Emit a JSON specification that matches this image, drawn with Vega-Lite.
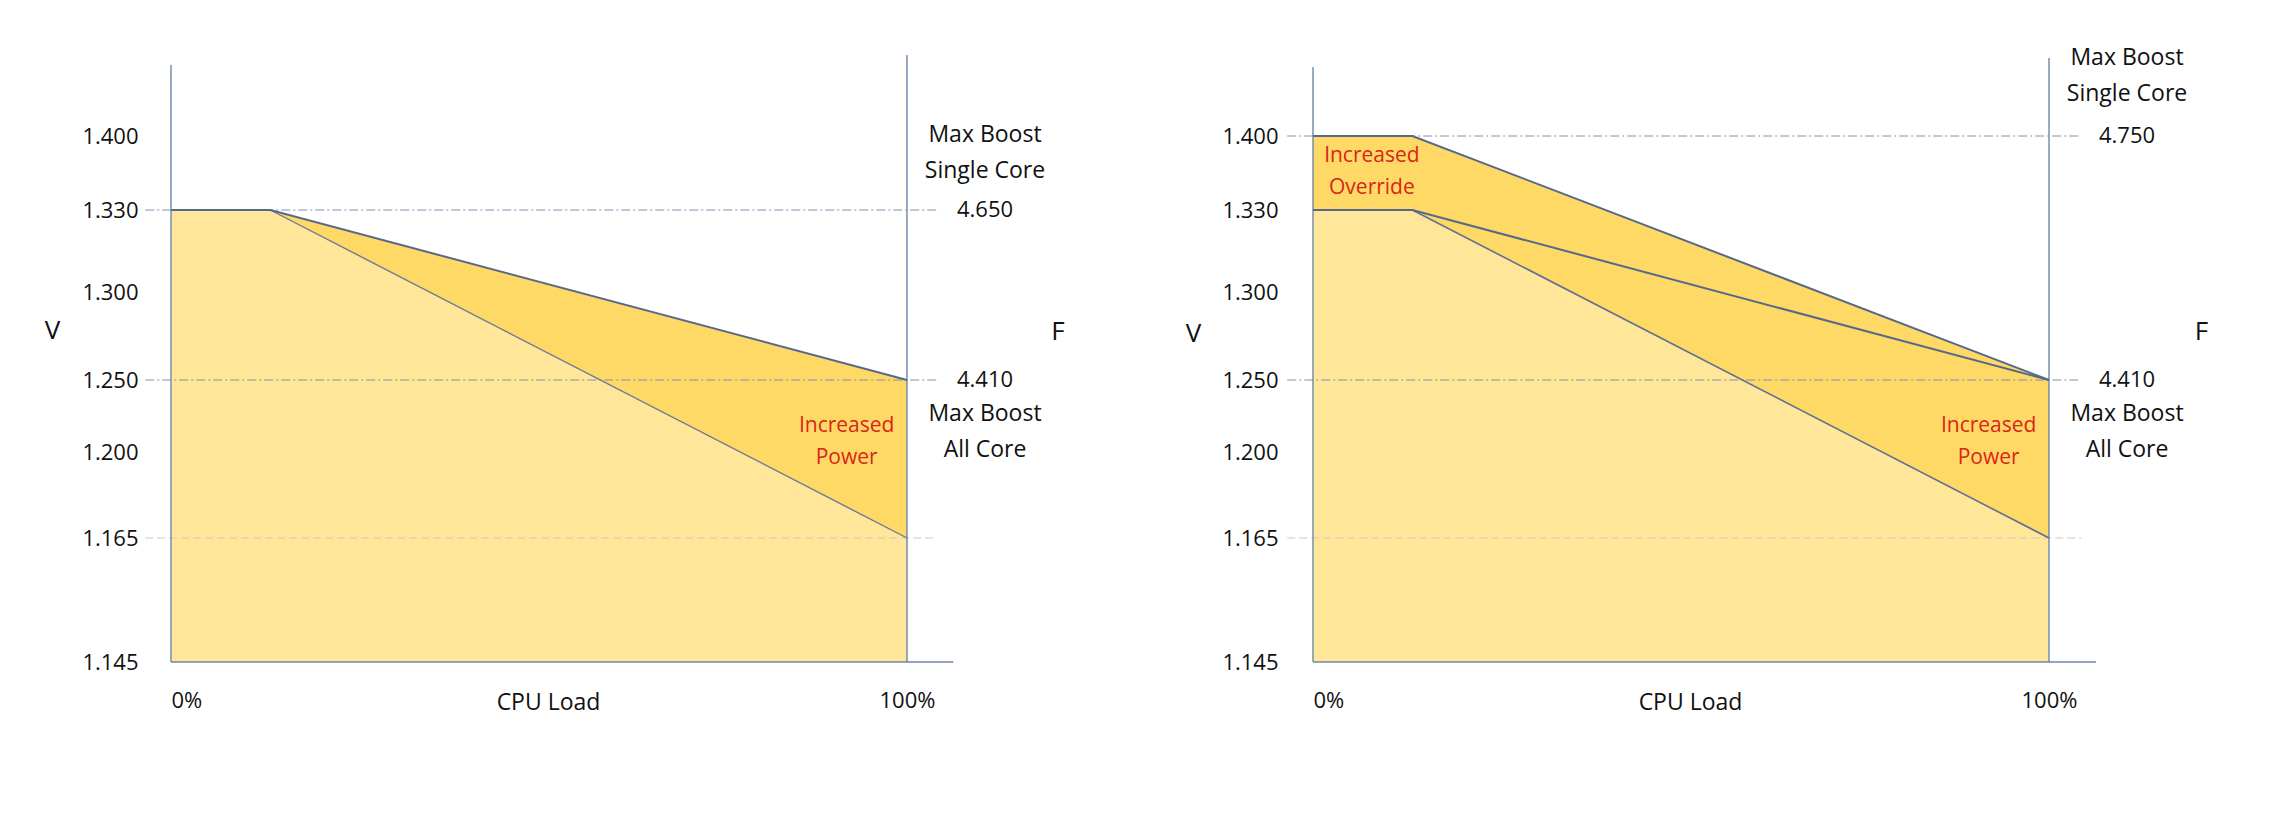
{
  "$schema": "https://vega.github.io/schema/vega-lite/v6.json",
  "background": "white",
  "padding": {"left": 44, "top": 36, "right": 10, "bottom": 100},
  "bounds": "flush",
  "spacing": 406,
  "config": {
    "view": {"stroke": null},
    "font": "Open Sans",
    "axis": {"grid": false, "domain": false, "ticks": false, "labelColor": "#111111", "titleColor": "#111111", "titleFontWeight": "normal"}
  },
  "datasets": {
    "regionsL": [
      {"region": "Base", "load": 0, "v": 1.33, "v2": 1.145},
      {"region": "Base", "load": 13.5, "v": 1.33, "v2": 1.145},
      {"region": "Base", "load": 100, "v": 1.165, "v2": 1.145},
      {"region": "Increased", "load": 13.5, "v": 1.33, "v2": 1.33},
      {"region": "Increased", "load": 100, "v": 1.25, "v2": 1.165}
    ],
    "regionsR": [
      {"region": "Base", "load": 0, "v": 1.33, "v2": 1.145},
      {"region": "Base", "load": 13.5, "v": 1.33, "v2": 1.145},
      {"region": "Base", "load": 100, "v": 1.165, "v2": 1.145},
      {"region": "Increased", "load": 0, "v": 1.4, "v2": 1.33},
      {"region": "Increased", "load": 13.5, "v": 1.4, "v2": 1.33},
      {"region": "Increased", "load": 100, "v": 1.25, "v2": 1.165}
    ],
    "linesL": [
      {"line": "top", "kind": "edge", "load": 0, "v": 1.33},
      {"line": "top", "kind": "edge", "load": 13.5, "v": 1.33},
      {"line": "top", "kind": "edge", "load": 100, "v": 1.25},
      {"line": "diag", "kind": "diag", "load": 13.5, "v": 1.33},
      {"line": "diag", "kind": "diag", "load": 100, "v": 1.165}
    ],
    "linesR": [
      {"line": "upper", "kind": "edge", "load": 0, "v": 1.4},
      {"line": "upper", "kind": "edge", "load": 13.5, "v": 1.4},
      {"line": "upper", "kind": "edge", "load": 100, "v": 1.25},
      {"line": "mid", "kind": "edge", "load": 0, "v": 1.33},
      {"line": "mid", "kind": "edge", "load": 13.5, "v": 1.33},
      {"line": "mid", "kind": "edge", "load": 100, "v": 1.25},
      {"line": "diag", "kind": "diag", "load": 13.5, "v": 1.33},
      {"line": "diag", "kind": "diag", "load": 100, "v": 1.165}
    ],
    "rulesL": [
      {"kind": "frame", "load": 0, "load2": 0, "v": 1.145, "v2": 1.471},
      {"kind": "frame", "load": 100, "load2": 100, "v": 1.145, "v2": 1.481},
      {"kind": "frame", "load": 0, "load2": 106.3, "v": 1.145, "v2": 1.145},
      {"kind": "ref", "load": -3.5, "load2": 104, "v": 1.33, "v2": 1.33},
      {"kind": "ref", "load": -3.5, "load2": 104, "v": 1.25, "v2": 1.25},
      {"kind": "refgray", "load": -3.5, "load2": 104, "v": 1.165, "v2": 1.165}
    ],
    "rulesR": [
      {"kind": "frame", "load": 0, "load2": 0, "v": 1.145, "v2": 1.469},
      {"kind": "frame", "load": 100, "load2": 100, "v": 1.145, "v2": 1.478},
      {"kind": "frame", "load": 0, "load2": 106.4, "v": 1.145, "v2": 1.145},
      {"kind": "ref", "load": -3.5, "load2": 104.4, "v": 1.4, "v2": 1.4},
      {"kind": "ref", "load": -3.5, "load2": 104.4, "v": 1.25, "v2": 1.25},
      {"kind": "refgray", "load": -3.5, "load2": 104.4, "v": 1.165, "v2": 1.165}
    ],
    "textsL": [
      {"role": "freq", "load": 110.6, "v": 1.33, "text": "4.650"},
      {"role": "freq", "load": 110.6, "v": 1.25, "text": "4.410"},
      {"role": "above", "load": 110.6, "v": 1.33, "text": "Max Boost\nSingle Core"},
      {"role": "below", "load": 110.6, "v": 1.25, "text": "Max Boost\nAll Core"},
      {"role": "axis", "load": 120.5, "v": 1.277, "text": "F"},
      {"role": "note", "load": 91.8, "v": 1.207, "text": "Increased\nPower"}
    ],
    "textsR": [
      {"role": "freq", "load": 110.6, "v": 1.4, "text": "4.750"},
      {"role": "freq", "load": 110.6, "v": 1.25, "text": "4.410"},
      {"role": "above", "load": 110.6, "v": 1.4, "text": "Max Boost\nSingle Core"},
      {"role": "below", "load": 110.6, "v": 1.25, "text": "Max Boost\nAll Core"},
      {"role": "axis", "load": 120.7, "v": 1.277, "text": "F"},
      {"role": "note", "load": 91.8, "v": 1.207, "text": "Increased\nPower"},
      {"role": "note", "load": 8.0, "v": 1.366, "text": "Increased\nOverride"}
    ]
  },
  "hconcat": [
    {
      "width": 736,
      "height": 626,
      "encoding": {
        "x": {"field": "load", "type": "quantitative", "scale": {"domain": [0, 100], "nice": false, "zero": false},
          "axis": {"values": [0, 100], "labelExpr": "datum.value + '%'", "labelFontSize": 22, "labelPadding": 28,
            "labelAlign": {"condition": {"test": "datum.value == 0", "value": "left"}, "value": "center"},
            "labelFlush": false,
            "title": "CPU Load", "titleFontSize": 23, "titleX": 377, "titleY": 40, "titleBaseline": "middle", "titleAlign": "center"}},
        "y": {"field": "v", "type": "quantitative",
          "scale": {"domain": [1.145, 1.165, 1.2, 1.25, 1.3, 1.33, 1.4, 1.5], "range": [626, 502, 416, 344, 256, 174, 100, 0], "nice": false, "zero": false},
          "axis": {"values": [1.145, 1.165, 1.2, 1.25, 1.3, 1.33, 1.4], "format": ".3f", "labelFontSize": 22, "labelPadding": 33,
            "title": "V", "titleAngle": 0, "titleFontSize": 26, "titleX": -119, "titleY": 294, "titleAlign": "center", "titleBaseline": "middle"}}
      },
      "layer": [
        {"data": {"name": "regionsL"}, "mark": {"type": "area", "opacity": 1},
          "encoding": {"y2": {"field": "v2"}, "color": {"field": "region", "type": "nominal", "scale": {"domain": ["Base", "Increased"], "range": ["#FFE699", "#FFD966"]}, "legend": null}}},
        {"data": {"name": "rulesL"}, "transform": [{"filter": "datum.kind == 'ref'"}], "mark": {"type": "rule", "color": "#8092B0", "strokeWidth": 1, "strokeDash": [9, 3, 2, 3]},
          "encoding": {"x2": {"field": "load2"}, "y2": {"field": "v2"}}},
        {"data": {"name": "rulesL"}, "transform": [{"filter": "datum.kind == 'refgray'"}], "mark": {"type": "rule", "color": "#C9C9C9", "strokeWidth": 1, "strokeDash": [8, 4]},
          "encoding": {"x2": {"field": "load2"}, "y2": {"field": "v2"}}},
        {"data": {"name": "rulesL"}, "transform": [{"filter": "datum.kind == 'frame'"}], "mark": {"type": "rule", "color": "#6F86A8", "strokeWidth": 1.4},
          "encoding": {"x2": {"field": "load2"}, "y2": {"field": "v2"}}},
        {"data": {"name": "linesL"}, "transform": [{"filter": "datum.kind == 'diag'"}], "mark": {"type": "line", "color": "#6A7B98", "strokeWidth": 1.4},
          "encoding": {"detail": {"field": "line"}}},
        {"data": {"name": "linesL"}, "transform": [{"filter": "datum.kind == 'edge'"}], "mark": {"type": "line", "color": "#56698A", "strokeWidth": 2},
          "encoding": {"detail": {"field": "line"}}},
        {"data": {"name": "textsL"}, "transform": [{"filter": "datum.role == 'freq'"}], "mark": {"type": "text", "fontSize": 22, "align": "center", "baseline": "middle", "color": "#111111"},
          "encoding": {"text": {"field": "text"}}},
        {"data": {"name": "textsL"}, "transform": [{"filter": "datum.role == 'above'"}], "mark": {"type": "text", "fontSize": 23, "align": "center", "baseline": "middle", "lineBreak": "\n", "lineHeight": 36, "dy": -75, "color": "#111111"},
          "encoding": {"text": {"field": "text"}}},
        {"data": {"name": "textsL"}, "transform": [{"filter": "datum.role == 'below'"}], "mark": {"type": "text", "fontSize": 23, "align": "center", "baseline": "middle", "lineBreak": "\n", "lineHeight": 36, "dy": 34, "color": "#111111"},
          "encoding": {"text": {"field": "text"}}},
        {"data": {"name": "textsL"}, "transform": [{"filter": "datum.role == 'axis'"}], "mark": {"type": "text", "fontSize": 26, "align": "center", "baseline": "middle", "color": "#111111"},
          "encoding": {"text": {"field": "text"}}},
        {"data": {"name": "textsL"}, "transform": [{"filter": "datum.role == 'note'"}], "mark": {"type": "text", "fontSize": 21, "align": "center", "baseline": "middle", "lineBreak": "\n", "lineHeight": 32, "dy": -16, "color": "#D8261A"},
          "encoding": {"text": {"field": "text"}}}
      ]
    },
    {
      "width": 736,
      "height": 626,
      "encoding": {
        "x": {"field": "load", "type": "quantitative", "scale": {"domain": [0, 100], "nice": false, "zero": false},
          "axis": {"values": [0, 100], "labelExpr": "datum.value + '%'", "labelFontSize": 22, "labelPadding": 28,
            "labelAlign": {"condition": {"test": "datum.value == 0", "value": "left"}, "value": "center"},
            "labelFlush": false,
            "title": "CPU Load", "titleFontSize": 23, "titleX": 377, "titleY": 40, "titleBaseline": "middle", "titleAlign": "center"}},
        "y": {"field": "v", "type": "quantitative",
          "scale": {"domain": [1.145, 1.165, 1.2, 1.25, 1.3, 1.33, 1.4, 1.5], "range": [626, 502, 416, 344, 256, 174, 100, 0], "nice": false, "zero": false},
          "axis": {"values": [1.145, 1.165, 1.2, 1.25, 1.3, 1.33, 1.4], "format": ".3f", "labelFontSize": 22, "labelPadding": 35,
            "title": "V", "titleAngle": 0, "titleFontSize": 26, "titleX": -120, "titleY": 297, "titleAlign": "center", "titleBaseline": "middle"}}
      },
      "layer": [
        {"data": {"name": "regionsR"}, "mark": {"type": "area", "opacity": 1},
          "encoding": {"y2": {"field": "v2"}, "color": {"field": "region", "type": "nominal", "scale": {"domain": ["Base", "Increased"], "range": ["#FFE699", "#FFD966"]}, "legend": null}}},
        {"data": {"name": "rulesR"}, "transform": [{"filter": "datum.kind == 'ref'"}], "mark": {"type": "rule", "color": "#8092B0", "strokeWidth": 1, "strokeDash": [9, 3, 2, 3]},
          "encoding": {"x2": {"field": "load2"}, "y2": {"field": "v2"}}},
        {"data": {"name": "rulesR"}, "transform": [{"filter": "datum.kind == 'refgray'"}], "mark": {"type": "rule", "color": "#C9C9C9", "strokeWidth": 1, "strokeDash": [8, 4]},
          "encoding": {"x2": {"field": "load2"}, "y2": {"field": "v2"}}},
        {"data": {"name": "rulesR"}, "transform": [{"filter": "datum.kind == 'frame'"}], "mark": {"type": "rule", "color": "#6F86A8", "strokeWidth": 1.4},
          "encoding": {"x2": {"field": "load2"}, "y2": {"field": "v2"}}},
        {"data": {"name": "linesR"}, "transform": [{"filter": "datum.kind == 'diag'"}], "mark": {"type": "line", "color": "#5F7190", "strokeWidth": 1.6},
          "encoding": {"detail": {"field": "line"}}},
        {"data": {"name": "linesR"}, "transform": [{"filter": "datum.kind == 'edge'"}], "mark": {"type": "line", "color": "#56698A", "strokeWidth": 2},
          "encoding": {"detail": {"field": "line"}}},
        {"data": {"name": "textsR"}, "transform": [{"filter": "datum.role == 'freq'"}], "mark": {"type": "text", "fontSize": 22, "align": "center", "baseline": "middle", "color": "#111111"},
          "encoding": {"text": {"field": "text"}}},
        {"data": {"name": "textsR"}, "transform": [{"filter": "datum.role == 'above'"}], "mark": {"type": "text", "fontSize": 23, "align": "center", "baseline": "middle", "lineBreak": "\n", "lineHeight": 36, "dy": -78, "color": "#111111"},
          "encoding": {"text": {"field": "text"}}},
        {"data": {"name": "textsR"}, "transform": [{"filter": "datum.role == 'below'"}], "mark": {"type": "text", "fontSize": 23, "align": "center", "baseline": "middle", "lineBreak": "\n", "lineHeight": 36, "dy": 34, "color": "#111111"},
          "encoding": {"text": {"field": "text"}}},
        {"data": {"name": "textsR"}, "transform": [{"filter": "datum.role == 'axis'"}], "mark": {"type": "text", "fontSize": 26, "align": "center", "baseline": "middle", "color": "#111111"},
          "encoding": {"text": {"field": "text"}}},
        {"data": {"name": "textsR"}, "transform": [{"filter": "datum.role == 'note'"}], "mark": {"type": "text", "fontSize": 21, "align": "center", "baseline": "middle", "lineBreak": "\n", "lineHeight": 32, "dy": -16, "color": "#D8261A"},
          "encoding": {"text": {"field": "text"}}}
      ]
    }
  ]
}
